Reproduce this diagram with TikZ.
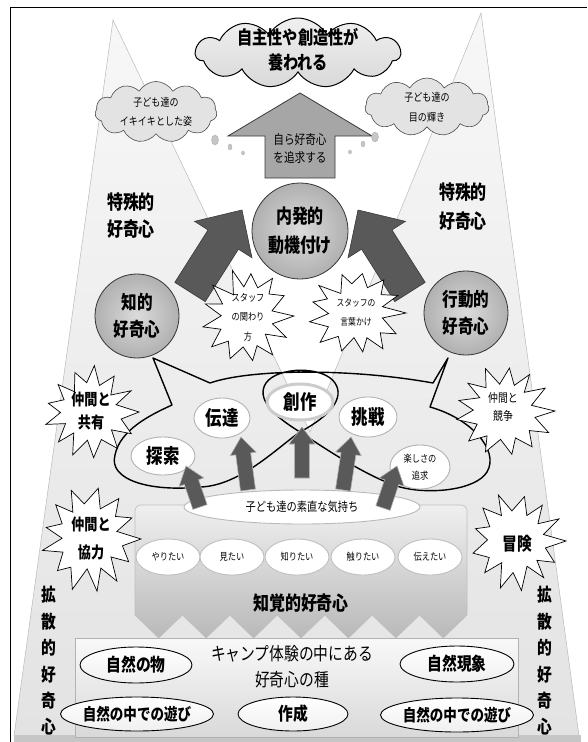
\documentclass[tikz,border=0pt]{standalone}
\usepackage{fontspec}
\setmainfont{Noto Sans CJK JP}[FakeStretch=0.82]
\usetikzlibrary{shapes.symbols,shapes.geometric,calc}
\newcommand\fs[2]{\fontsize{#1}{#2}\selectfont}
\newcommand\blockarrow[6]{%
  \coordinate (bac) at ($(#3)!#6!(#2)$);
  \path[#1] ($(#2)!#4!90:(#3)$) -- ($(bac)!#4!-90:(#2)$) -- ($(bac)!#5!-90:(#2)$) -- (#3)
    -- ($(bac)!#5!90:(#2)$) -- ($(bac)!#4!90:(#2)$) -- ($(#2)!#4!-90:(#3)$) -- cycle;}
% irregular starburst: cx, cy, rx, ry, seed
\newcommand\burstshape[5]{%
  \pgfmathsetseed{#5}%
  \draw[burstst] ({#1+#3},{#2}) \foreach \i [evaluate=\i as \r using {mod(\i,2)==0 ? 0.86+0.14*rnd : 0.52+0.14*rnd},
      evaluate=\i as \a using {\i*180/13+6*(rnd-0.5)}] in {1,...,25}
    { -- ({#1+#3*\r*cos(\a)},{#2+#4*\r*sin(\a)}) } -- cycle;}
\begin{document}
\begin{tikzpicture}[x=1pt,y=-1pt,
  every node/.style={inner sep=0pt, align=center},
  wov/.style={ellipse, fill=white, draw=gray!60, line width=0.9pt},
  seedov/.style={ellipse, draw=black, line width=0.9pt, top color=white, bottom color=gray!12},
  burstst/.style={fill=white, draw=black, line width=0.7pt, line join=miter},
  ballc/.style={circle, draw=gray!40!black, line width=0.8pt, inner color=gray!28, outer color=gray!62},
  smallarr/.style={fill=gray!55!black!90, draw=gray!60, line width=0.6pt},
  darkarr/.style={fill=gray!70!black, draw=gray!45!black, line width=0.6pt},
  bigarr/.style={fill=gray!70, draw=gray!45!black, line width=0.8pt},
  cloudc/.style={cloud, cloud puffs=11, cloud puff arc=120, aspect=2.2, draw=gray!60!black, line width=0.6pt, fill=gray!22},
  dot/.style={ellipse, fill=gray!45, draw=gray!60}]
\useasboundingbox (0,0) rectangle (587,742);
% background peaks
\path[top color=gray!6, bottom color=gray!22, draw=gray!55, line width=0.5pt]
  (113,20) -- (310,432) -- (481,13) -- (579,736) -- (14,736) -- cycle;
\fill[gray!45] (14,735) rectangle (581,742);
% frame
\draw[line width=1pt] (10,742) -- (10,7) -- (587,7);
% seed box
\path[top color=gray!5, bottom color=gray!30, draw=gray!60, line width=0.6pt] (75,638) rectangle (518,737);
\node[font=\fs{18}{26}] (seed) at (292,667) {キャンプ体験の中にある\\好奇心の種};
\node[seedov, minimum width=112pt, minimum height=36pt, font=\fs{18}{20}\bfseries] (s1) at (136,665) {自然の物};
\node[seedov, minimum width=114pt, minimum height=34pt, font=\fs{16.5}{20}\bfseries] (s2) at (137,714) {自然の中での遊び};
\node[seedov, minimum width=110pt, minimum height=34pt, font=\fs{18}{20}\bfseries] (s3) at (293,714) {作成};
\node[seedov, minimum width=114pt, minimum height=36pt, font=\fs{18}{20}\bfseries] (s4) at (457,664) {自然現象};
\node[seedov, minimum width=114pt, minimum height=34pt, font=\fs{16.5}{20}\bfseries] (s5) at (457,715) {自然の中での遊び};
% perception box
\path[top color=gray!12, bottom color=gray!55, draw=gray!50, line width=0.6pt]
  (135,615) -- (135,511) to[out=90,in=180] (141,505) -- (461,505) to[out=0,in=90] (467,511) -- (467,615)
  \foreach \k in {6,5,...,0} { -- ({135+47.43*\k+23.7},638) -- ({135+47.43*\k},615) } -- cycle;
\foreach \n/\x/\t in {w1/168/やりたい, w2/232/見たい, w3/297/知りたい, w4/363/触りたい, w5/430/伝えたい}
  \node[wov, draw=gray!50, minimum width=64pt, minimum height=36pt, font=\fs{10}{12}] (\n) at (\x,557) {\t};
\node[font=\fs{19.5}{22}\bfseries] (perc) at (301,603) {知覚的好奇心};
% feelings ellipse
\node[wov, draw=gray!55, minimum width=236pt, minimum height=34pt, font=\fs{12.5}{14}] (feel) at (302,507) {子ども達の素直な気持ち};
% blob with loop
\coordinate (tipL) at (153,358);
\coordinate (tipR) at (448,358);
\draw[line width=1.4pt, line join=round]
  (tipL) -- (210,383) .. controls (250,369) and (350,368) .. (433,383) -- (tipR) -- (430,407)
  .. controls (470,418) and (500,450) .. (487,472) .. controls (476,490) and (430,495) .. (400,487)
  .. controls (370,478) and (330,452) .. (300,432)
  .. controls (272,415) and (256,398) .. (266,383) .. controls (278,366) and (324,366) .. (335,383)
  .. controls (345,398) and (330,416) .. (300,432)
  .. controls (278,447) and (240,486) .. (200,487)
  .. controls (150,492) and (108,480) .. (115,455) .. controls (120,430) and (150,415) .. (172,405) -- cycle;
% inner ellipses
\node[wov, minimum width=64pt, minimum height=38pt, font=\fs{20}{22}\bfseries] (tans) at (163,456) {探索};
\node[wov, minimum width=56pt, minimum height=40pt, font=\fs{20}{22}\bfseries] (dent) at (222,418) {伝達};
\node[wov, draw=gray!40, line width=3pt, minimum width=66pt, minimum height=36pt, font=\fs{20}{22}\bfseries] (sous) at (300,402) {創作};
\node[wov, minimum width=58pt, minimum height=40pt, font=\fs{20}{22}\bfseries] (chos) at (368,417) {挑戦};
\node[wov, minimum width=60pt, minimum height=44pt, font=\fs{10}{17}] (tano) at (420,467) {楽しさの\\追求};
% small arrows
\coordinate (a1t) at (200,507); \coordinate (a1h) at (186,466);
\coordinate (a2t) at (248,490); \coordinate (a2h) at (241,437);
\coordinate (a3t) at (302,478); \coordinate (a3h) at (302,427);
\coordinate (a4t) at (343,490); \coordinate (a4h) at (351,437);
\coordinate (a5t) at (383,508); \coordinate (a5h) at (397,466);
\foreach \i in {1,...,5} {\blockarrow{smallarr}{a\i t}{a\i h}{7.5pt}{13pt}{17pt}}
% circles
\node[ballc, minimum size=96pt, font=\fs{19.5}{29}\bfseries] (naih) at (300,231) {内発的\\動機付け};
\node[ballc, minimum size=84pt, font=\fs{19}{27}\bfseries] (chit) at (137,316) {知的\\好奇心};
\node[ballc, minimum size=84pt, font=\fs{19}{27}\bfseries] (kodo) at (466,313) {行動的\\好奇心};
% dark arrows
\coordinate (dLt) at (190,292); \coordinate (dLh) at (242,210);
\coordinate (dRt) at (410,292); \coordinate (dRh) at (358,210);
\blockarrow{darkarr}{dLt}{dLh}{18pt}{34pt}{35pt}
\blockarrow{darkarr}{dRt}{dRh}{18pt}{34pt}{35pt}
% big up arrow
\coordinate (uat) at (300,178); \coordinate (uah) at (300,93);
\blockarrow{bigarr}{uat}{uah}{35pt}{72pt}{43pt}
\node[font=\fs{13}{18}] (uatx) at (300,149) {自ら好奇心\\を追求する};
% labels
\node[font=\fs{19.5}{27}\bfseries] (tokL) at (131,216) {特殊的\\好奇心};
\node[font=\fs{19.5}{29}\bfseries] (tokR) at (463,207) {特殊的\\好奇心};
\node[font=\fs{18}{26.4}\bfseries] (kakL) at (49,661) {拡\\散\\的\\好\\奇\\心};
\node[font=\fs{18}{26.4}\bfseries] (kakR) at (545,661) {拡\\散\\的\\好\\奇\\心};
% starbursts
\burstshape{247}{316}{47}{48}{3}
\node[font=\fs{10}{19.5}] (st1) at (248,317) {スタッフ\\の関わり\\方};
\burstshape{356}{313}{50}{45}{7}
\node[font=\fs{9.5}{19}] (st2) at (356,313) {スタッフの\\言葉かけ};
\burstshape{90}{412}{49}{48}{11}
\node[font=\fs{16}{23}\bfseries] (nk1) at (91,411) {仲間と\\共有};
\burstshape{90}{539}{51}{54}{5}
\node[font=\fs{16}{28}\bfseries] (nk2) at (91,538) {仲間と\\協力};
\burstshape{504}{411}{51}{48}{9}
\node[font=\fs{12}{18}] (nk3) at (503,407) {仲間と\\競争};
\burstshape{517}{541}{49}{50}{13}
\node[font=\fs{18}{20}\bfseries] (bok) at (517,544) {冒険};
% clouds
\node[cloudc, top color=gray!12, bottom color=gray!30, draw=black, line width=1pt, minimum width=205pt, minimum height=70pt] (ctop) at (298,53) {};
\node[font=\fs{18.5}{25}\bfseries] (ctopt) at (298,50) {自主性や創造性が\\養われる};
\node[cloudc, minimum width=122pt, minimum height=58pt, font=\fs{11}{19}] (cl) at (156,112) {子ども達の\\イキイキとした姿};
\node[cloudc, minimum width=124pt, minimum height=58pt, font=\fs{11}{20}] (cr) at (427,107) {子ども達の\\目の輝き};
\node[dot, minimum width=7pt, minimum height=10pt] (dl1) at (215,140) {};
\node[dot, minimum width=4pt, minimum height=6pt] (dl2) at (230,147) {};
\node[dot, minimum width=3pt, minimum height=4pt] (dl3) at (243,153) {};
\node[dot, minimum width=7pt, minimum height=10pt] (dr1) at (375,137) {};
\node[dot, minimum width=4pt, minimum height=6pt] (dr2) at (363,144) {};
\node[dot, minimum width=3pt, minimum height=4pt] (dr3) at (350,152) {};
\end{tikzpicture}
\end{document}
